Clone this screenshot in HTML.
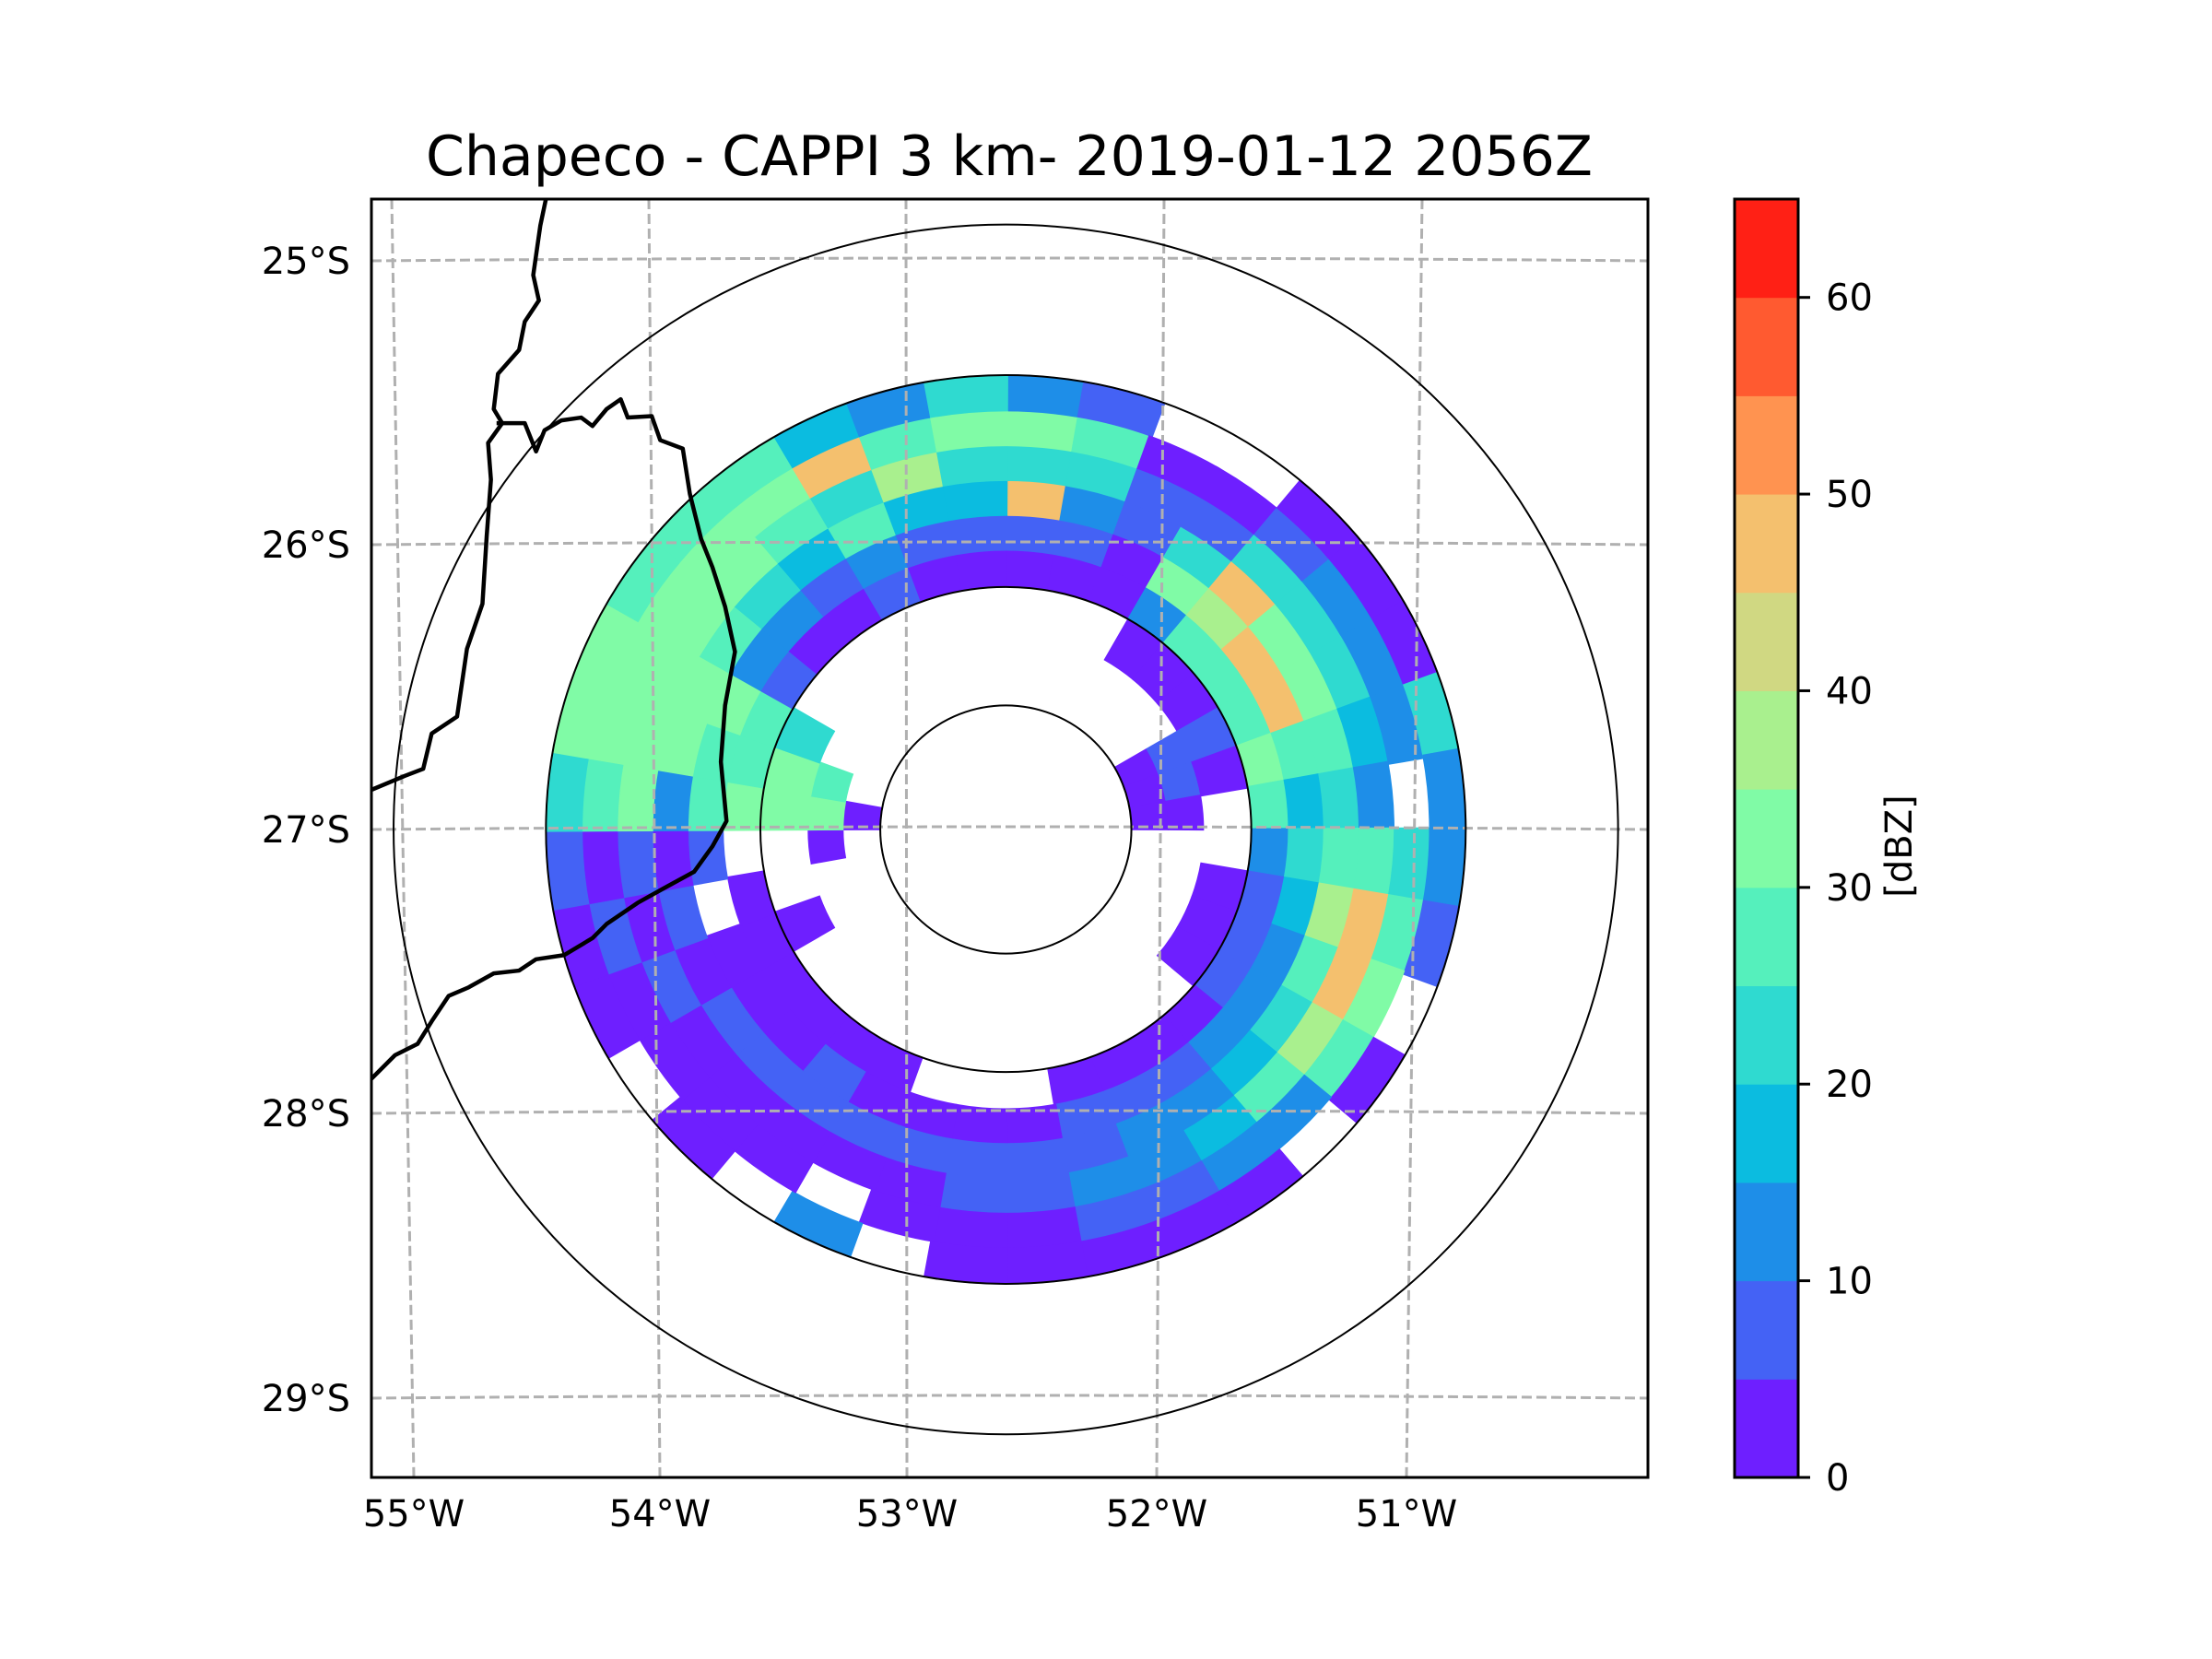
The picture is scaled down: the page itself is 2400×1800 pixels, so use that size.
<!DOCTYPE html>
<html><head><meta charset="utf-8"><style>
html,body{margin:0;padding:0;background:#fff;}
svg{display:block;font-family:"DejaVu Sans","Liberation Sans",sans-serif;}
</style></head><body>
<svg id="chart" width="2400" height="1800" viewBox="0 0 2400 1800" xmlns="http://www.w3.org/2000/svg">
<rect width="2400" height="1800" fill="#fff"/>
<text x="1095" y="190" font-size="60" text-anchor="middle">Chapeco - CAPPI 3 km- 2019-01-12 2056Z</text>
<defs><clipPath id="axclip"><rect x="403" y="216" width="1385" height="1387"/></clipPath></defs>
<g id="plot" clip-path="url(#axclip)">
 <g id="cells"></g>
 <g id="grid"></g>
 <g id="rings"></g>
 <g transform="scale(1.5306)">
  <path fill="none" stroke="#000" stroke-width="4.5" vector-effect="non-scaling-stroke" stroke-linejoin="round" d="M387,141 L383,160 L378,195 L382,213 L372,228 L368,248 L353,265 L350,290 L356,300 L346,314 L348,340 L345,380 L342,428 L331,460 L324,508 L306,520 L300,545 L287,550 L263,560"/>
  <path fill="none" stroke="#000" stroke-width="4.5" vector-effect="non-scaling-stroke" stroke-linejoin="round" d="M352,300 L372,300 L380,320 L386,305 L398,298 L412,296 L420,302 L430,290 L440,283 L445,296 L462,295 L468,312 L484,318 L489,350 L497,382 L505,402 L514,430 L521,462 L514,500 L511,540 L515,582 L505,600 L492,618 L470,630 L452,640 L430,655 L420,665 L400,677 L380,680 L368,688 L350,690 L332,700 L318,706 L306,724 L296,740 L280,748 L263,765"/>
 </g>
</g>
<rect x="403" y="216" width="1385" height="1387" fill="none" stroke="#000" stroke-width="3"/>
<g id="ticks" font-size="40"></g>
<g id="cbar"></g>
<text x="2074" y="918" font-size="40" text-anchor="middle" transform="rotate(-90 2074 918)">[dBZ]</text>
<script>
// ---- data ----
const rangeEdges=[89,115,140,174,200,225,250,275,300,326];
const azimuths=[0,10,20,30,40,50,60,70,80,90,100,110,120,130,140,150,160,170,180,190,200,210,220,230,240,250,260,270,280,290,300,310,320,330,340,350];
const reflectivity=[
[null,null,null,2,7,47,22,32,12],
[null,null,null,2,7,12,22,27,7],
[null,null,null,2,2,7,7,2,null],
[null,null,2,12,32,22,7,2,null],
[null,null,2,27,37,47,22,7,2],
[null,null,2,27,47,32,22,12,2],
[2,7,7,27,47,32,22,12,2],
[2,7,2,32,27,27,17,12,22],
[2,2,null,27,17,22,12,null,12],
[null,null,null,12,22,27,27,22,12],
[null,null,2,7,17,37,47,27,7],
[null,null,2,7,12,27,47,32,null],
[null,null,2,7,12,22,37,27,2],
[null,null,null,2,12,17,27,12,null],
[null,null,null,2,7,12,17,12,2],
[null,null,null,2,7,12,12,7,2],
[null,null,null,2,7,7,12,7,2],
[null,null,null,null,2,7,7,2,2],
[null,null,null,null,2,7,7,2,2],
[null,null,null,null,2,7,2,2,null],
[null,null,null,2,2,7,2,null,12],
[null,null,null,2,7,7,2,2,null],
[null,null,null,2,2,7,2,2,2],
[null,null,null,2,2,7,2,2,null],
[null,null,2,2,2,2,7,2,2],
[null,null,null,2,null,7,2,7,2],
[null,2,null,null,7,2,7,2,7],
[2,32,32,32,27,12,32,27,22],
[null,27,32,27,27,32,32,32,32],
[null,null,22,27,32,32,32,32,32],
[null,null,null,7,12,27,32,32,27],
[null,null,null,2,12,22,32,32,27],
[null,null,null,2,7,17,27,32,27],
[null,null,null,7,12,27,22,47,17],
[null,null,null,2,7,17,37,27,12],
[null,null,null,2,7,17,22,32,22]
];
const levelColors=["#6e1fff","#4462f5","#1e8ee8","#0bbce0","#2fdad0","#55f0bc","#80fba6","#a9f08e","#d0d882","#f4c06e","#ff9350","#ff5a30","#ff2015"];
const cbarTicks=[0,10,20,30,40,50,60];
const latLabels=["25°S","26°S","27°S","28°S","29°S"];
const lonLabels=["55°W","54°W","53°W","52°W","51°W"];
const ringRadii=[89,174,326,434];
// ---- geometry ----
const NS="http://www.w3.org/2000/svg";
const S=1.5306, CX=713*S, CY=588*S, RY=0.988;
function rPx(r){return r*S;}
function colorFor(v){return levelColors[Math.min(levelColors.length-1,Math.floor(v/5))];}
function pt(az,r){const a=az*Math.PI/180;return [CX+rPx(r)*Math.sin(a), CY-rPx(r)*Math.cos(a)*RY];}
const cells=document.getElementById('cells');
azimuths.forEach((az,i)=>{
  reflectivity[i].forEach((v,j)=>{
    if(v===null) return;
    const a0=az-0.3,a1=az+10.3,r0=rangeEdges[j],r1=rangeEdges[j+1]+0.5;
    const p1=pt(a0,r0),p2=pt(a0,r1),p3=pt(a1,r1),p4=pt(a1,r0);
    const el=document.createElementNS(NS,'path');
    el.setAttribute('d',`M${p1}L${p2}A${rPx(r1)},${rPx(r1)*RY} 0 0 1 ${p3}L${p4}A${rPx(r0)},${rPx(r0)*RY} 0 0 0 ${p1}Z`);
    el.setAttribute('fill',colorFor(v));
    
    
    cells.appendChild(el);
  });
});
// grid
const grid=document.getElementById('grid');
const latY=[[283,280],[591,588],[900,897],[1208,1205],[1517,1514]];
latY.forEach(([ye,ym])=>{
  const el=document.createElementNS(NS,'path');
  el.setAttribute('d',`M403,${ye} Q1095,${2*ym-ye} 1788,${ye}`);
  el.setAttribute('fill','none');el.setAttribute('stroke','#b0b0b0');el.setAttribute('stroke-width','3');el.setAttribute('stroke-dasharray','11 5');
  
  
  grid.appendChild(el);
});
const lonX=[[425,449],[704,716],[983,984],[1263,1255],[1543,1526]];
lonX.forEach(([xt,xb])=>{
  const el=document.createElementNS(NS,'line');
  el.setAttribute('x1',xt);el.setAttribute('y1',216);el.setAttribute('x2',xb);el.setAttribute('y2',1603);
  el.setAttribute('stroke','#b0b0b0');el.setAttribute('stroke-width','3');el.setAttribute('stroke-dasharray','11 5');
  
  
  grid.appendChild(el);
});
// rings
const rings=document.getElementById('rings');
ringRadii.forEach(r=>{
  const el=document.createElementNS(NS,'ellipse');
  el.setAttribute('cx',CX);el.setAttribute('cy',CY);el.setAttribute('rx',rPx(r));el.setAttribute('ry',rPx(r)*RY);
  el.setAttribute('fill','none');el.setAttribute('stroke','#000');el.setAttribute('stroke-width','2');
  
  
  rings.appendChild(el);
});
// tick labels
const ticks=document.getElementById('ticks');
latLabels.forEach((t,i)=>{
  const el=document.createElementNS(NS,'text');
  el.setAttribute('x',380);el.setAttribute('y',latY[i][0]+14);el.setAttribute('text-anchor','end');
  el.textContent=t;
  
  
  ticks.appendChild(el);
});
lonLabels.forEach((t,i)=>{
  const el=document.createElementNS(NS,'text');
  el.setAttribute('x',lonX[i][1]);el.setAttribute('y',1656);el.setAttribute('text-anchor','middle');
  el.textContent=t;
  
  
  ticks.appendChild(el);
});
// colorbar
const cb=document.getElementById('cbar');
const cbTop=216,cbBot=1603,cbX=1882,cbW=69,vmax=65;
function cbY(v){return cbBot-(v/vmax)*(cbBot-cbTop);}
levelColors.forEach((c,i)=>{
  const el=document.createElementNS(NS,'rect');
  el.setAttribute('x',cbX);el.setAttribute('y',cbY((i+1)*5));el.setAttribute('width',cbW);el.setAttribute('height',cbY(i*5)-cbY((i+1)*5)+0.5);
  el.setAttribute('fill',c);
  
  
  cb.appendChild(el);
});
const fr=document.createElementNS(NS,'rect');
fr.setAttribute('x',cbX);fr.setAttribute('y',cbTop);fr.setAttribute('width',cbW);fr.setAttribute('height',cbBot-cbTop);
fr.setAttribute('fill','none');fr.setAttribute('stroke','#000');fr.setAttribute('stroke-width','3');


cb.appendChild(fr);
cbarTicks.forEach(v=>{
  const y=cbY(v);
  const tk=document.createElementNS(NS,'line');
  tk.setAttribute('x1',cbX+cbW);tk.setAttribute('x2',cbX+cbW+13);tk.setAttribute('y1',y);tk.setAttribute('y2',y);
  tk.setAttribute('stroke','#000');tk.setAttribute('stroke-width','3');
  
  
  cb.appendChild(tk);
  const el=document.createElementNS(NS,'text');
  el.setAttribute('x',1981);el.setAttribute('y',y+14);el.setAttribute('font-size','40');
  el.textContent=String(v);
  
  
  cb.appendChild(el);
});
</script>
</svg>
</body></html>
